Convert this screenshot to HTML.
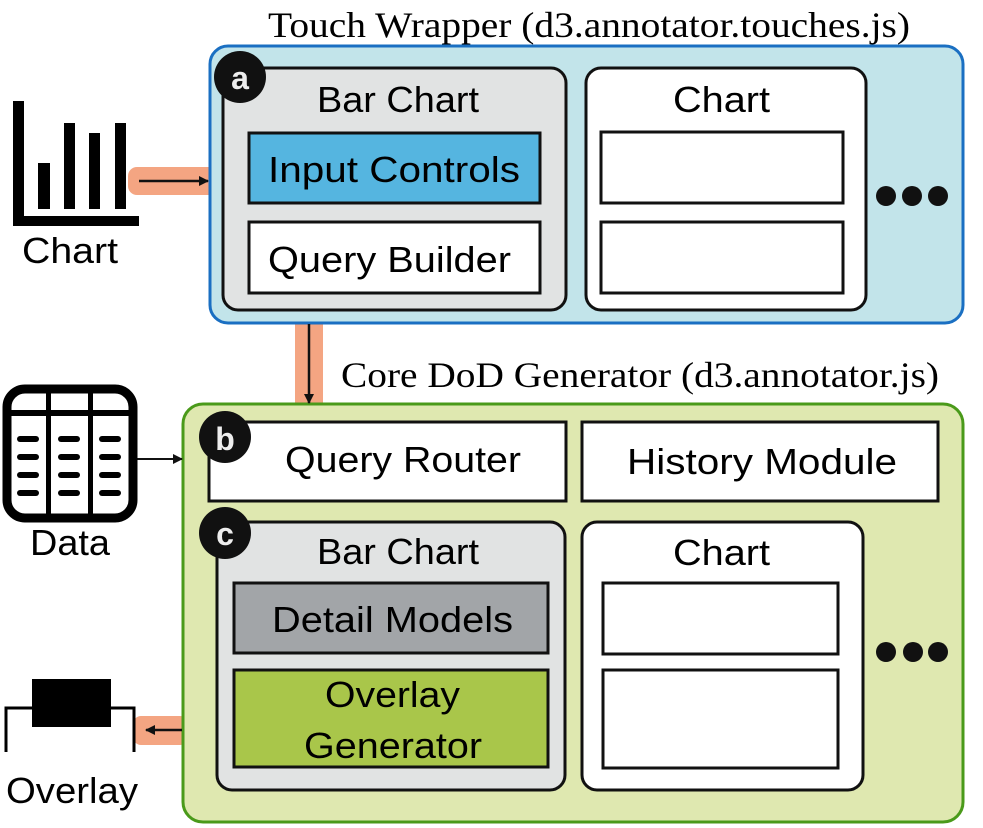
<!DOCTYPE html>
<html><head><meta charset="utf-8"><style>html,body{margin:0;padding:0;background:#fff}svg{display:block}</style></head>
<body>
<svg width="983" height="828" viewBox="0 0 983 828" xmlns="http://www.w3.org/2000/svg">
<defs>
<marker id="ah" markerWidth="10" markerHeight="10" refX="9" refY="5" orient="auto" markerUnits="userSpaceOnUse"><path d="M0,0 L10,5 L0,10 z" fill="#111"/></marker>
</defs>
<g font-family="Liberation Sans, sans-serif" fill="#000">
<!-- titles -->
<text x="268" y="37" font-family="Liberation Serif, serif" font-size="36" textLength="642" lengthAdjust="spacingAndGlyphs">Touch Wrapper (d3.annotator.touches.js)</text>
<text x="341" y="387" font-family="Liberation Serif, serif" font-size="36" textLength="598" lengthAdjust="spacingAndGlyphs">Core DoD Generator (d3.annotator.js)</text>

<!-- connectors -->
<rect x="128" y="167" width="90" height="28" rx="9" fill="#f4a582"/>
<rect x="295" y="318" width="28" height="88" fill="#f4a582"/>
<rect x="133" y="716" width="55" height="29" rx="8" fill="#f4a582"/>

<!-- top box -->
<rect x="210" y="46" width="753" height="277" rx="18" fill="#c2e4ea" stroke="#1a6fc2" stroke-width="3"/>
<rect x="223" y="68" width="343" height="242" rx="15" fill="#e1e3e3" stroke="#111" stroke-width="3"/>
<rect x="249" y="133" width="291" height="70" fill="#55b5e0" stroke="#111" stroke-width="3"/>
<rect x="249" y="222" width="291" height="71" fill="#fff" stroke="#111" stroke-width="3"/>
<text x="317" y="112" font-size="36" textLength="162" lengthAdjust="spacingAndGlyphs">Bar Chart</text>
<text x="268" y="182" font-size="36" textLength="252" lengthAdjust="spacingAndGlyphs">Input Controls</text>
<text x="268" y="272" font-size="36" textLength="243" lengthAdjust="spacingAndGlyphs">Query Builder</text>
<rect x="586" y="68" width="280" height="242" rx="15" fill="#fff" stroke="#111" stroke-width="3"/>
<text x="673" y="112" font-size="36" textLength="97" lengthAdjust="spacingAndGlyphs">Chart</text>
<rect x="601" y="132" width="242" height="71" fill="#fff" stroke="#111" stroke-width="3"/>
<rect x="601" y="222" width="242" height="71" fill="#fff" stroke="#111" stroke-width="3"/>
<circle cx="886" cy="196" r="10" fill="#111"/><circle cx="912" cy="196" r="10" fill="#111"/><circle cx="938" cy="196" r="10" fill="#111"/>
<circle cx="240" cy="77" r="26" fill="#111"/>
<text x="240" y="89" font-size="32" font-weight="bold" fill="#eee" text-anchor="middle">a</text>

<!-- bottom box -->
<rect x="183" y="404" width="780" height="418" rx="20" fill="#dfe8b0" stroke="#4a9a1a" stroke-width="3"/>
<rect x="209" y="422" width="357" height="79" fill="#fff" stroke="#111" stroke-width="3"/>
<rect x="582" y="422" width="356" height="79" fill="#fff" stroke="#111" stroke-width="3"/>
<text x="285" y="472" font-size="36" textLength="236" lengthAdjust="spacingAndGlyphs">Query Router</text>
<text x="627" y="474" font-size="36" textLength="270" lengthAdjust="spacingAndGlyphs">History Module</text>
<rect x="217" y="522" width="348" height="268" rx="15" fill="#e1e3e3" stroke="#111" stroke-width="3"/>
<rect x="234" y="583" width="314" height="70" fill="#a2a5a8" stroke="#111" stroke-width="3"/>
<rect x="234" y="670" width="314" height="97" fill="#a9c64a" stroke="#111" stroke-width="3"/>
<text x="317" y="564" font-size="36" textLength="162" lengthAdjust="spacingAndGlyphs">Bar Chart</text>
<text x="272" y="632" font-size="36" textLength="241" lengthAdjust="spacingAndGlyphs">Detail Models</text>
<text x="325" y="707" font-size="36" textLength="135" lengthAdjust="spacingAndGlyphs">Overlay</text>
<text x="304" y="758" font-size="36" textLength="178" lengthAdjust="spacingAndGlyphs">Generator</text>
<rect x="582" y="522" width="281" height="268" rx="15" fill="#fff" stroke="#111" stroke-width="3"/>
<text x="673" y="565" font-size="36" textLength="97" lengthAdjust="spacingAndGlyphs">Chart</text>
<rect x="603" y="583" width="235" height="71" fill="#fff" stroke="#111" stroke-width="3"/>
<rect x="603" y="670" width="235" height="98" fill="#fff" stroke="#111" stroke-width="3"/>
<circle cx="886" cy="652" r="10" fill="#111"/><circle cx="913" cy="652" r="10" fill="#111"/><circle cx="938" cy="652" r="10" fill="#111"/>
<circle cx="225" cy="437" r="26" fill="#111"/>
<text x="225" y="450" font-size="32" font-weight="bold" fill="#eee" text-anchor="middle">b</text>
<circle cx="225" cy="533" r="26" fill="#111"/>
<text x="225" y="545" font-size="32" font-weight="bold" fill="#eee" text-anchor="middle">c</text>

<!-- arrows -->
<line x1="139" y1="181" x2="208" y2="181" stroke="#111" stroke-width="2.5" marker-end="url(#ah)"/>
<line x1="309" y1="324" x2="309" y2="403" stroke="#111" stroke-width="2.5" marker-end="url(#ah)"/>
<line x1="137" y1="459" x2="182" y2="459" stroke="#111" stroke-width="2" marker-end="url(#ah)"/>
<line x1="182" y1="730" x2="146" y2="730" stroke="#111" stroke-width="2.5" marker-end="url(#ah)"/>

<!-- chart icon -->
<rect x="13" y="101" width="11" height="125" fill="#000"/>
<rect x="13" y="216" width="126" height="10" fill="#000"/>
<rect x="38" y="163" width="12" height="46" fill="#000"/>
<rect x="64" y="123" width="11" height="86" fill="#000"/>
<rect x="89" y="133" width="11" height="76" fill="#000"/>
<rect x="115" y="123" width="11" height="86" fill="#000"/>
<text x="22" y="263" font-size="36" textLength="96" lengthAdjust="spacingAndGlyphs">Chart</text>

<!-- data icon -->
<rect x="7" y="389" width="126" height="129" rx="18" fill="#fff" stroke="#000" stroke-width="9"/>
<rect x="7" y="410" width="126" height="6" fill="#000"/>
<rect x="46" y="389" width="5" height="129" fill="#000"/>
<rect x="88" y="389" width="5" height="129" fill="#000"/>
<g stroke="#000" stroke-width="6" stroke-linecap="round">
<line x1="20" y1="439" x2="36" y2="439"/><line x1="20" y1="457" x2="36" y2="457"/><line x1="20" y1="475" x2="36" y2="475"/><line x1="20" y1="493" x2="36" y2="493"/>
<line x1="61" y1="439" x2="77" y2="439"/><line x1="61" y1="457" x2="77" y2="457"/><line x1="61" y1="475" x2="77" y2="475"/><line x1="61" y1="493" x2="77" y2="493"/>
<line x1="102" y1="439" x2="118" y2="439"/><line x1="102" y1="457" x2="118" y2="457"/><line x1="102" y1="475" x2="118" y2="475"/><line x1="102" y1="493" x2="118" y2="493"/>
</g>
<text x="30" y="555" font-size="36" textLength="80" lengthAdjust="spacingAndGlyphs">Data</text>

<!-- overlay icon -->
<polyline points="6,752 6,708 134,708 134,752" fill="none" stroke="#000" stroke-width="3"/>
<rect x="32" y="679" width="79" height="48" fill="#000"/>
<text x="6" y="803" font-size="36" textLength="132" lengthAdjust="spacingAndGlyphs">Overlay</text>
</g>
</svg>
</body></html>
